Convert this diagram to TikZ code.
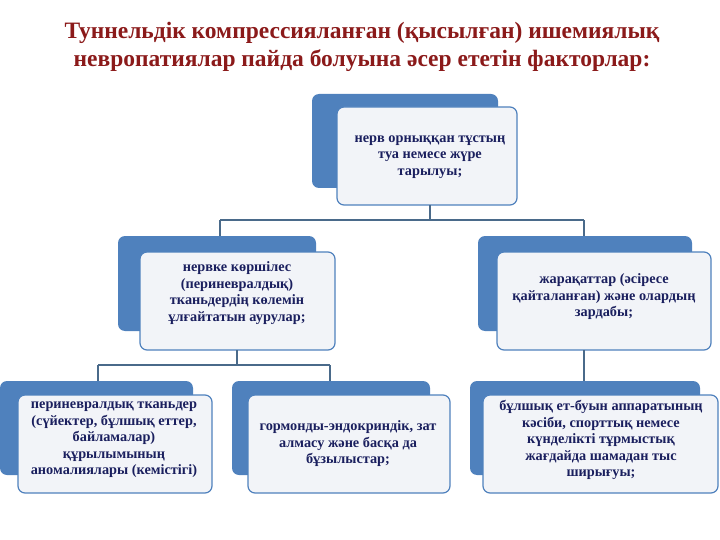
\documentclass[tikz,border=0pt]{standalone}
\usepackage{fontspec}
\setmainfont{Liberation Serif}
\begin{document}
\begin{tikzpicture}[x=1pt,y=-1pt,
  back/.style={fill=blueA,draw=none,rounded corners=7pt},
  front/.style={fill=white,draw=blueA,line width=1.2pt,rounded corners=7pt},
  txt/.style={align=center,text=navy,font=\bfseries\fontsize{14.3}{16.5}\selectfont},
  conn/.style={draw=connC,line width=1.2pt}]
\definecolor{blueA}{HTML}{4F81BD}
\definecolor{navy}{HTML}{1A1F5E}
\definecolor{connC}{HTML}{4A6A8A}
\definecolor{titleC}{HTML}{8B1A1A}
\definecolor{fillC}{HTML}{F2F4F8}
\useasboundingbox (0,0) rectangle (720,540);
\node[align=center,text=titleC,font=\bfseries\fontsize{23.5}{28}\selectfont] (title) at (362,47)
 {Туннельдік компрессияланған (қысылған) ишемиялық\\невропатиялар пайда болуына әсер ететін факторлар:};
% top
\fill[back] (312,94) rectangle (498,188);
\draw[front,fill=fillC] (337,107) rectangle (517,205);
\node[txt] (top) at (430,157) {нерв орныққан тұстың\\туа немесе жүре\\тарылуы;};
% mid left
\fill[back] (118,236) rectangle (316,331);
\draw[front,fill=fillC] (140,252) rectangle (335,350);
\node[txt] (ml) at (237,293) {нервке көршілес\\(периневралдық)\\тканьдердің көлемін\\ұлғайтатын аурулар;};
% mid right
\fill[back] (478,236) rectangle (692,331);
\draw[front,fill=fillC] (497,252) rectangle (711,350);
\node[txt] (mr) at (604,297) {жарақаттар (әсіресе\\қайталанған) және олардың\\зардабы;};
% bottom left
\fill[back] (0,381) rectangle (193,475);
\draw[front,fill=fillC] (18,395) rectangle (212,493);
\node[txt] (bl) at (114,440) {периневралдық тканьдер\\(сүйектер, бұлшық еттер,\\байламалар)\\құрылымының\\аномалиялары (кемістігі)};
% bottom middle
\fill[back] (232,381) rectangle (430,475);
\draw[front,fill=fillC] (248,395) rectangle (450,493);
\node[txt] (bm) at (348,444) {гормонды-эндокриндік, зат\\алмасу және басқа да\\бұзылыстар;};
% bottom right
\fill[back] (470,381) rectangle (700,475);
\draw[front,fill=fillC] (483,395) rectangle (718,493);
\node[txt] (br) at (601,440) {бұлшық ет-буын аппаратының\\кәсіби, спорттық немесе\\күнделікті тұрмыстық\\жағдайда шамадан тыс\\ширығуы;};
% connectors
\coordinate (t0) at (430,205);
\coordinate (t1) at (430,220);
\coordinate (h1) at (220,220);
\coordinate (h2) at (584,220);
\draw[conn] (t0) -- (t1);
\draw[conn] (h1) -- (h2);
\draw[conn] (h1) -- (220,236);
\draw[conn] (h2) -- (584,236);
\draw[conn] (237,350) -- (237,365);
\draw[conn] (98,365) -- (330,365);
\draw[conn] (98,365) -- (98,381);
\draw[conn] (330,365) -- (330,381);
\draw[conn] (584,350) -- (584,381);
\end{tikzpicture}
\end{document}
